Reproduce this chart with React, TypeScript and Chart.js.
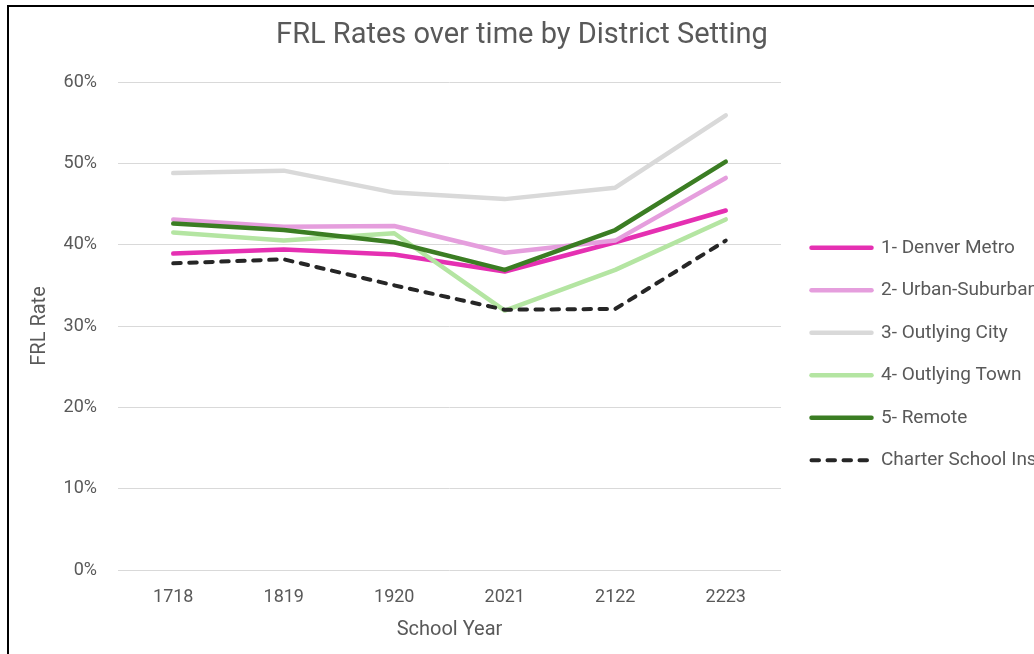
import React, { useEffect, useRef } from 'react';
import { Chart, registerables } from 'chart.js';

Chart.register(...registerables);

const schoolYears = ['1718', '1819', '1920', '2021', '2122', '2223'];
const seriesNames = [
  '1- Denver Metro',
  '2- Urban-Suburban',
  '3- Outlying City',
  '4- Outlying Town',
  '5- Remote',
  'Charter School Institute',
];
const denverMetro = [38.9, 39.4, 38.8, 36.7, 40.3, 44.2];
const urbanSuburban = [43.1, 42.2, 42.3, 39.0, 40.5, 48.2];
const outlyingCity = [48.8, 49.1, 46.4, 45.6, 47.0, 55.9];
const outlyingTown = [41.5, 40.5, 41.4, 31.9, 36.9, 43.1];
const remote = [42.6, 41.8, 40.3, 36.9, 41.8, 50.2];
const charterSchool = [37.7, 38.2, 35.0, 32.0, 32.1, 40.5];
const seriesValues = [denverMetro, urbanSuburban, outlyingCity, outlyingTown, remote, charterSchool];
const seriesColors = ['#E530B2', '#E59EDD', '#D9D9D9', '#B4E5A2', '#3B7D23', '#262626'];
const yMin = 0;
const yMax = 60;
const yStep = 10;

const FONT = "Roboto, 'Liberation Sans', sans-serif";
const TEXT = '#595959';

export default function App() {
  const ref = useRef<HTMLCanvasElement>(null);
  useEffect(() => {
    const canvas = ref.current;
    if (!canvas) return;
    const chart = new Chart(canvas, {
      type: 'line',
      data: {
        labels: schoolYears,
        datasets: seriesValues.map((vals, i) => ({
          label: seriesNames[i],
          data: vals,
          borderColor: seriesColors[i],
          backgroundColor: seriesColors[i],
          borderWidth: i === 5 ? 4 : 4.5,
          borderDash: i === 5 ? [7.5, 8.5] : [],
          borderCapStyle: 'round',
          borderJoinStyle: 'round',
          pointRadius: 0,
          pointHoverRadius: 0,
          tension: 0,
          fill: false,
          order: seriesValues.length - i,
        })),
      },
      options: {
        responsive: false,
        animation: false,
        devicePixelRatio: 1,
        layout: { padding: 0 },
        events: [],
        plugins: {
          title: {
            display: true,
            text: 'FRL Rates over time by District Setting',
            color: TEXT,
            font: { family: FONT, size: 29, weight: 'normal' },
            padding: { top: 10.9, bottom: 29.3 },
          },
          legend: {
            position: 'right',
            align: 'center',
            maxWidth: 247,
            labels: {
              color: TEXT,
              font: { family: FONT, size: 19 },
              padding: 23.5,
              usePointStyle: true,
              pointStyle: 'line',
              pointStyleWidth: 60,
              generateLabels: (ch: any) =>
                ch.data.datasets.map((ds: any, i: number) => ({
                  text: ds.label,
                  fillStyle: ds.borderColor,
                  strokeStyle: ds.borderColor,
                  lineWidth: ds.borderWidth,
                  lineDash: ds.borderDash || [],
                  lineCap: 'round',
                  pointStyle: 'line',
                  fontColor: TEXT,
                  hidden: false,
                  datasetIndex: i,
                })),
            },
          },
          tooltip: { enabled: false },
        },
        scales: {
          x: {
            type: 'category',
            offset: true,
            grid: { display: false, drawTicks: false },
            border: { display: false },
            ticks: { color: TEXT, font: { family: FONT, size: 18 }, padding: 17, maxRotation: 0 },
            title: {
              display: true,
              text: 'School Year',
              color: TEXT,
              font: { family: FONT, size: 20 },
              padding: { top: 0, bottom: 59.5 },
            },
            afterFit: (s: any) => {
              s.height = 131;
            },
          },
          y: {
            min: yMin,
            max: yMax,
            ticks: {
              stepSize: yStep,
              color: TEXT,
              font: { family: FONT, size: 18 },
              padding: 21,
              callback: (v: any) => v + '%',
            },
            grid: { color: '#D9D9D9', lineWidth: 1, drawTicks: false },
            border: { display: false },
            title: {
              display: true,
              text: 'FRL Rate',
              color: TEXT,
              font: { family: FONT, size: 20 },
              padding: { top: 19, bottom: 0 },
            },
            afterFit: (s: any) => {
              s.width = 109;
            },
          },
          yGap: {
            position: 'right',
            display: true,
            grid: { display: false, drawTicks: false },
            border: { display: false },
            ticks: { display: false },
            afterFit: (s: any) => {
              s.width = 7;
            },
          },
        },
      },
    } as any);
    return () => chart.destroy();
  }, []);

  return (
    <div
      style={{
        position: 'fixed',
        left: 0,
        top: 0,
        width: 1034,
        height: 654,
        overflow: 'hidden',
        background: '#fff',
      }}
    >
      <div
        style={{
          position: 'absolute',
          left: 7,
          top: 5,
          width: 1200,
          height: 800,
          border: '2px solid #000',
          boxSizing: 'border-box',
        }}
      />
      <canvas
        ref={ref}
        width={1026}
        height={694}
        style={{ position: 'absolute', left: 9, top: 7, width: 1026, height: 694 }}
      />
    </div>
  );
}
